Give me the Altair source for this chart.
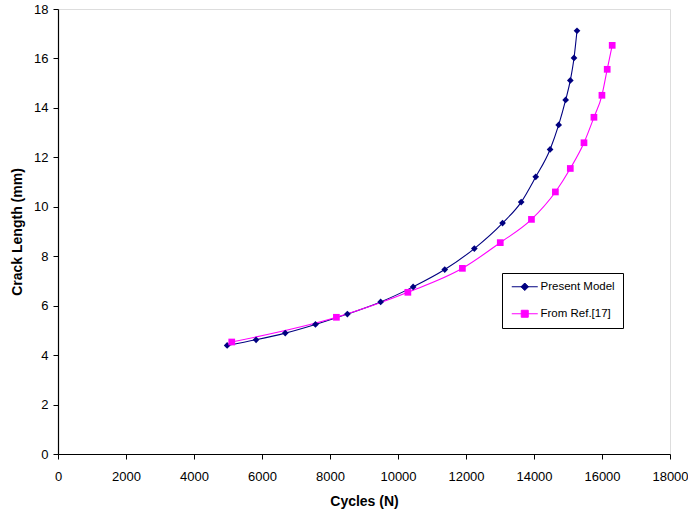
import altair as alt
import pandas as pd

series_names = ["Present Model", "From Ref.[17]"]

pm_cycles = [4975, 5825, 6684, 7572, 8511, 9490, 10445, 11375, 12245, 13075,
             13623, 14051, 14473, 14726, 14931, 15068, 15177, 15265]
pm_crack = [4.39, 4.62, 4.89, 5.24, 5.66, 6.15, 6.76, 7.46, 8.31, 9.34,
            10.19, 11.21, 12.32, 13.31, 14.32, 15.11, 16.02, 17.12]

ref_cycles = [5110, 8188, 10290, 11894, 13008, 13925, 14629, 15068, 15470,
              15763, 15998, 16153, 16300]
ref_crack = [4.53, 5.53, 6.54, 7.51, 8.55, 9.49, 10.6, 11.55, 12.59,
             13.62, 14.51, 15.56, 16.53]

x_ticks = list(range(0, 18001, 2000))
y_ticks = list(range(0, 19, 2))

colors = ["#000080", "#FF00FF"]
marker_shapes = ["diamond", "square"]

df = pd.concat([
    pd.DataFrame({"Cycles": pm_cycles, "Crack": pm_crack, "Series": series_names[0], "order": range(len(pm_cycles))}),
    pd.DataFrame({"Cycles": ref_cycles, "Crack": ref_crack, "Series": series_names[1], "order": range(len(ref_cycles))}),
])

font = "Liberation Sans"

x = alt.X("Cycles:Q", title="Cycles (N)",
          scale=alt.Scale(domain=[0, 18000], nice=False),
          axis=alt.Axis(values=x_ticks, grid=False, domainColor="black", tickColor="black",
                        domainWidth=1.2, tickWidth=1, labelFlush=False,
                        tickSize=5, labelFontSize=13, labelColor="black", labelPadding=11,
                        titleFontSize=14, titleFontWeight="bold", titleColor="black",
                        titlePadding=11, labelFont=font, titleFont=font, format="d"))
y = alt.Y("Crack:Q", title="Crack Length (mm)",
          scale=alt.Scale(domain=[0, 18], nice=False),
          axis=alt.Axis(values=y_ticks, grid=False, domainColor="black", tickColor="black",
                        domainWidth=1.2, tickWidth=1, labelFlush=False,
                        tickSize=5, labelFontSize=13, labelColor="black", labelPadding=5,
                        titleFontSize=14, titleFontWeight="bold", titleColor="black",
                        titlePadding=9, labelFont=font, titleFont=font))

color_scale = alt.Scale(domain=series_names, range=colors)

diamond_leg = "M-4.2,0L1,0M-1.6,-0.75L-0.85,0L-1.6,0.75L-2.35,0Z"
square_leg = "M-4.2,0L1,0M-2.3,-0.7L-0.9,-0.7L-0.9,0.7L-2.3,0.7Z"

shape_expr = f"datum.value === '{series_names[0]}' ? '{diamond_leg}' : '{square_leg}'"
color_expr = f"datum.value === '{series_names[0]}' ? '{colors[0]}' : '{colors[1]}'"

legend = alt.Legend(
    title=None, orient="none", legendX=444, legendY=264,
    strokeColor="black", fillColor="white", padding=8,
    labelFont=font, labelFontSize=11.5, labelColor="black",
    symbolSize=100, rowPadding=14, labelOffset=2, symbolOffset=17,
    symbolType=alt.ExprRef(expr=shape_expr),
    symbolStrokeColor=alt.ExprRef(expr=color_expr),
    symbolFillColor=alt.ExprRef(expr=color_expr),
    symbolStrokeWidth=1)

lines = alt.Chart(df).mark_line(interpolate="monotone", strokeWidth=1.1).encode(
    x=x, y=y, order="order:Q",
    color=alt.Color("Series:N", scale=color_scale, legend=legend),
)

point_layers = [
    alt.Chart(df).transform_filter(alt.datum.Series == name)
    .mark_point(filled=True, opacity=1, shape=shp, color=col, size=45)
    .encode(x=x, y=y)
    for name, shp, col in zip(series_names, marker_shapes, colors)
]

chart = alt.layer(lines, *point_layers).properties(
    width=612, height=445,
    autosize=alt.AutoSizeParams(type="none"),
    padding={"left": 58, "top": 9, "right": 18, "bottom": 61},
).configure_view(stroke="#808080", strokeWidth=1.5).configure(background="white")

chart.save("out.html", embed_options={"renderer": "svg", "actions": False})
